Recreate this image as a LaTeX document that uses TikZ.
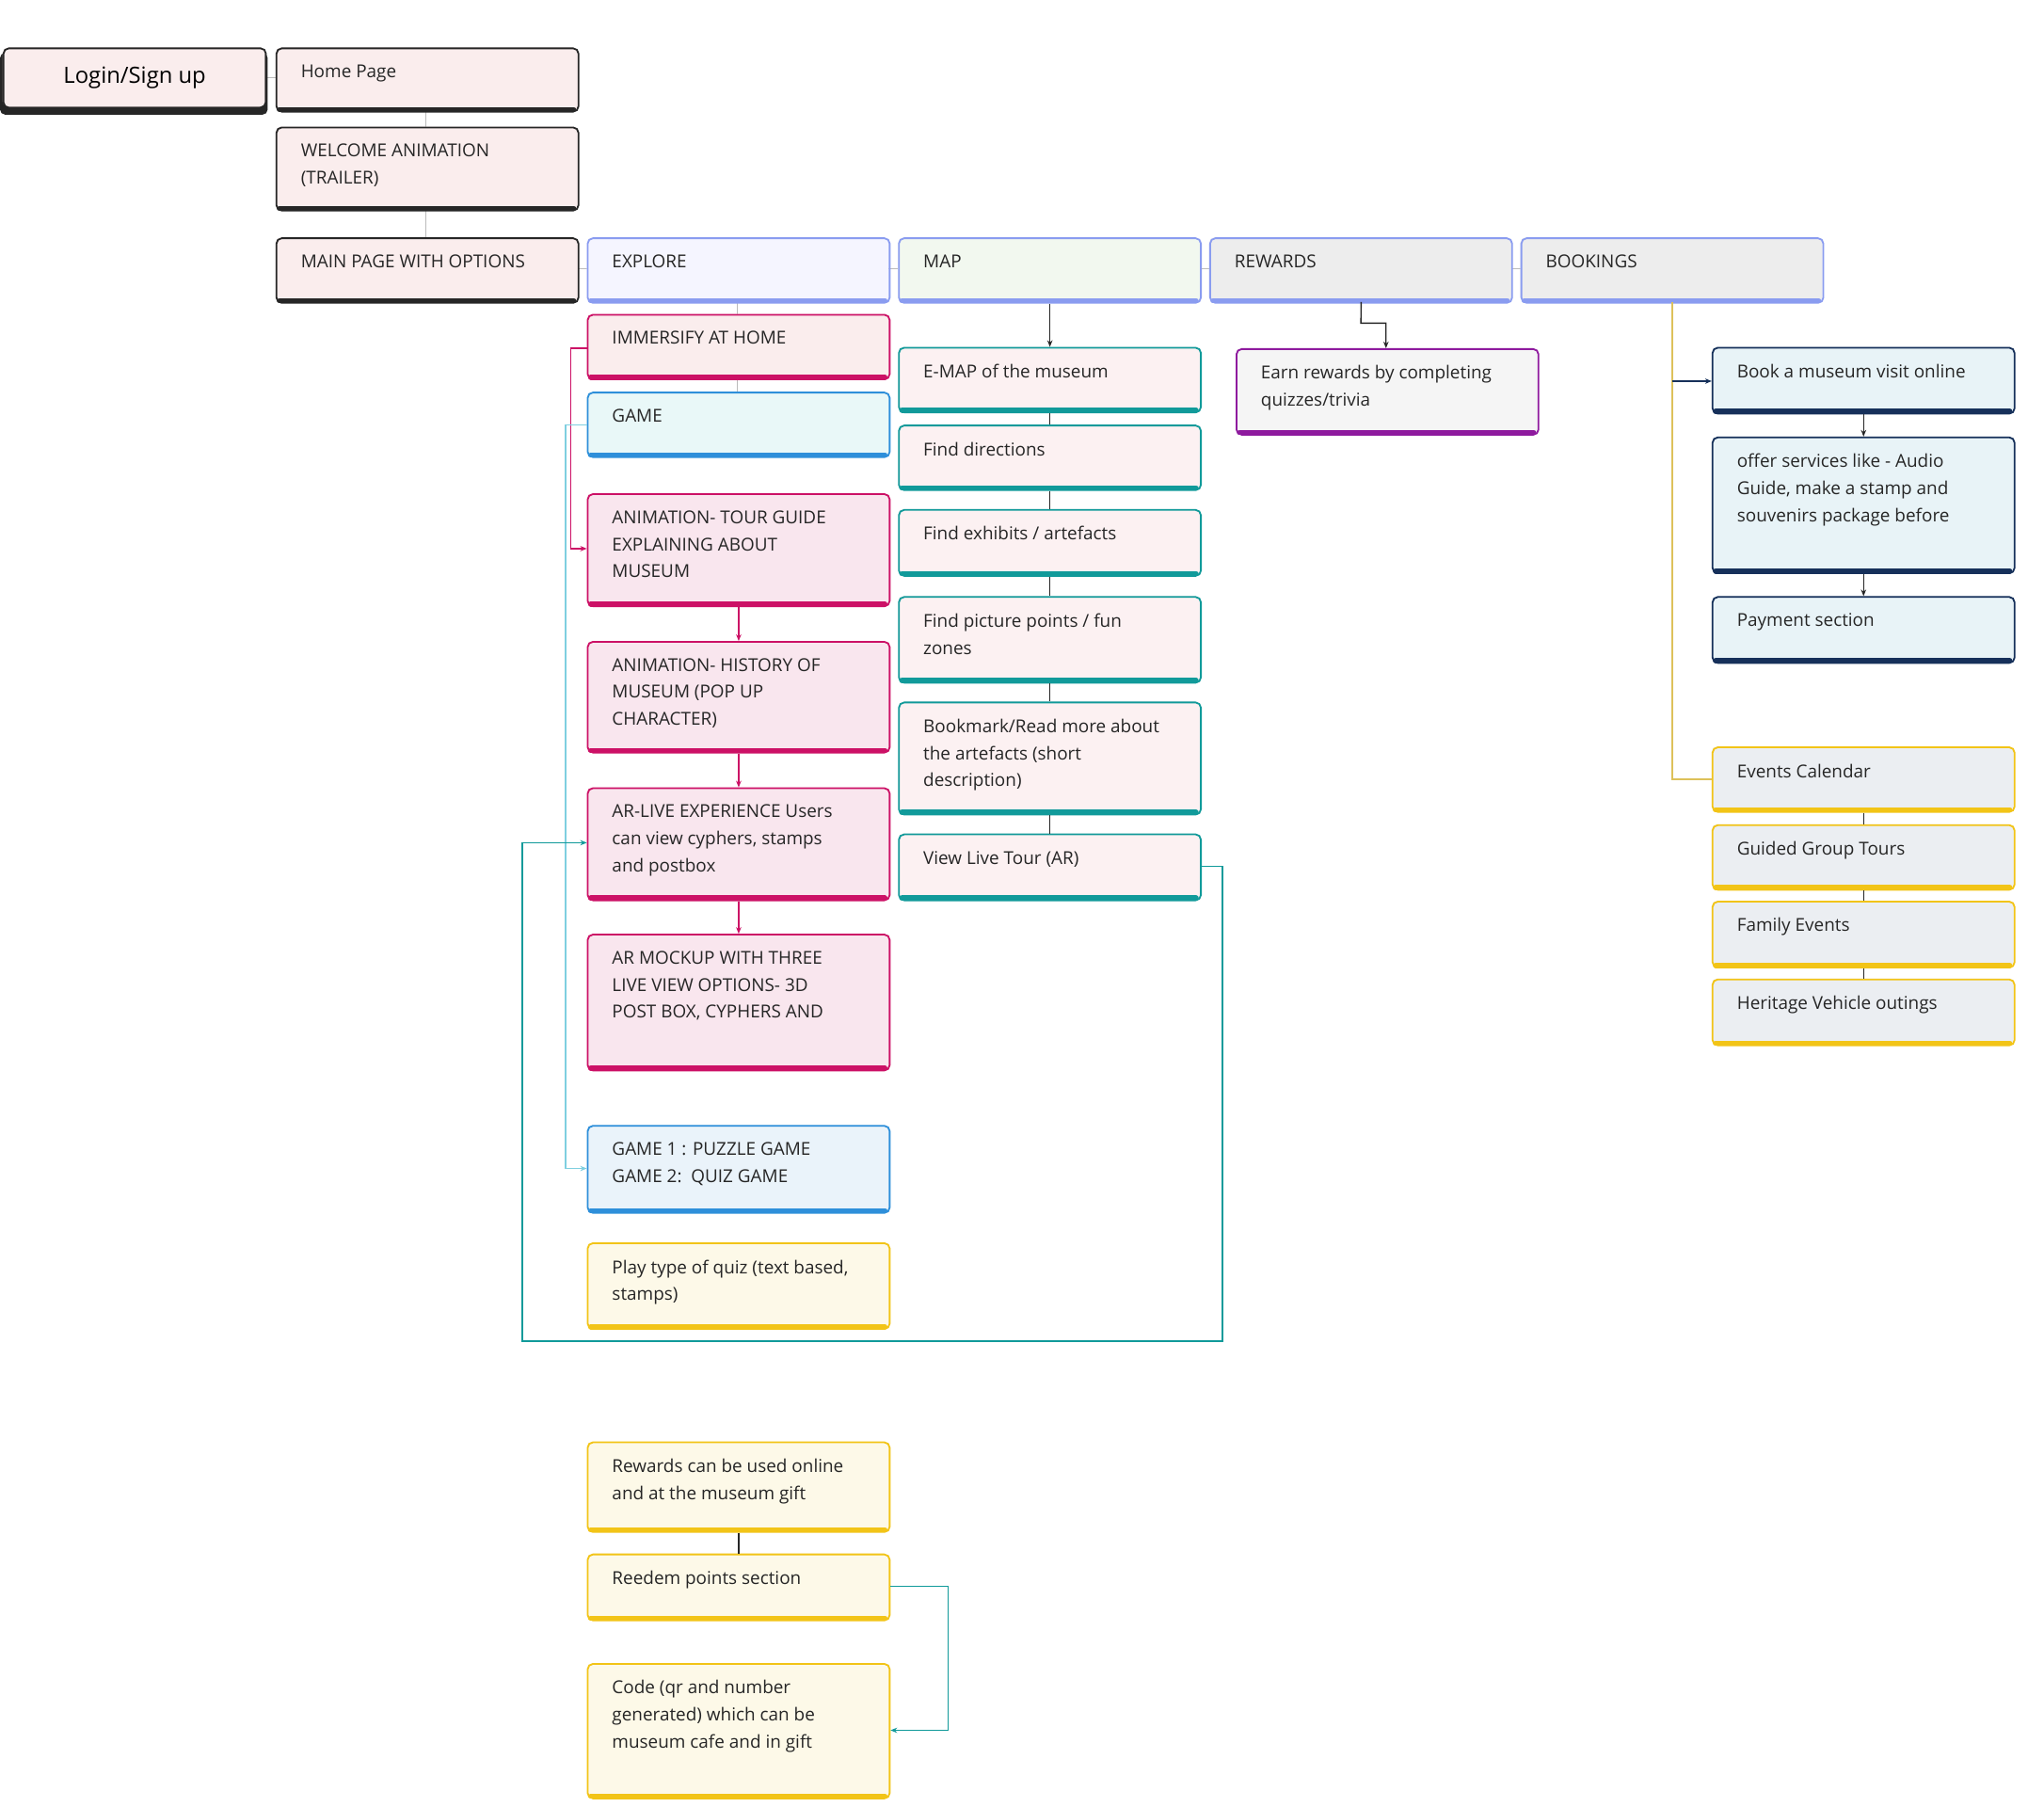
\documentclass[tikz,border=0pt]{standalone}
\usepackage{fontspec}
\setmainfont{Open Sans}
\usetikzlibrary{arrows.meta}
\definecolor{pinkfill}{HTML}{FAEDED}
\definecolor{magfill}{HTML}{F9E6EE}
\definecolor{mag}{HTML}{CC1166}
\definecolor{bluebd}{HTML}{8A9CF0}
\definecolor{gamebd}{HTML}{2E8FDA}
\definecolor{gamefill}{HTML}{E9F8F8}
\definecolor{g1fill}{HTML}{EAF3FA}
\definecolor{yel}{HTML}{F2C417}
\definecolor{yelfill}{HTML}{FDF9E8}
\definecolor{teal}{HTML}{119A9A}
\definecolor{tealfill}{HTML}{FCF1F2}
\definecolor{purp}{HTML}{8E1A9E}
\definecolor{navy}{HTML}{16305A}
\definecolor{navyfill}{HTML}{E8F3F7}
\definecolor{evfill}{HTML}{EBEEF2}
\definecolor{lblue}{HTML}{7FCFE0}
\definecolor{ltgrey}{HTML}{BBBBBB}
\definecolor{mapfill}{HTML}{F2F8EF}
\tikzset{x=1pt,y=-1pt,
  txt/.style={anchor=north west,align=left,inner sep=0pt,font=\fontsize{13.5}{20.5}\selectfont,text=black!85},
  gl/.style={draw=ltgrey,line width=0.8pt},
  arr/.style={-{Stealth[length=5pt,width=4pt]},line width=1pt}}
% \bx{name}{x1}{y1}{x2}{y2}{fill}{border}{text}
\newcommand{\bx}[8]{%
  \fill[#6,rounded corners=4pt] (#2,#3) rectangle (#4,#5);
  \draw[#7,line width=4pt,line cap=round] ({#2+3},{#5-1}) -- ({#4-3},{#5-1});
  \node[draw=#7,line width=1.3pt,rounded corners=4pt,inner sep=0pt,anchor=north west,minimum width={#4-#2},minimum height={#5-#3}] (#1) at (#2,#3) {};
  \node[txt] (#1t) at ({#2+19},{#3+13}) {#8};}
\begin{document}
\begin{tikzpicture}
\useasboundingbox[fill=white] (0,0) rectangle (1550,1370);
% connectors grey
\draw[gl] (202,59) -- (209,59);
\draw[gl] (323,83) -- (323,96);
\draw[gl] (323,158) -- (323,180);
\draw[gl] (438,204) -- (445,204);
\draw[gl] (674,204) -- (681,204);
\draw[gl] (910,204) -- (917,204);
\draw[gl] (1146,204) -- (1153,204);
\draw[gl] (559,228) -- (559,238);
\draw[gl] (559,286) -- (559,297);
% boxes
\fill[black!85,rounded corners=4pt] (0,40) rectangle (203,87);
\fill[pinkfill,rounded corners=4pt] (2,36) rectangle (201,81);
\node[draw=black!85,line width=1.3pt,rounded corners=4pt,inner sep=0pt,anchor=north west,minimum width=199,minimum height=45] (login) at (2,36) {};
\node[font=\fontsize{17}{20}\selectfont] (logint) at (login.center) {Login/Sign up};
\bx{home}{209}{36}{438}{84}{pinkfill}{black!85}{Home Page}
\bx{wel}{209}{96}{438}{159}{pinkfill}{black!85}{WELCOME ANIMATION\\(TRAILER)}
\bx{main}{209}{180}{438}{229}{pinkfill}{black!85}{MAIN PAGE WITH OPTIONS}
\bx{exp}{445}{180}{674}{229}{blue!4}{bluebd}{EXPLORE}
\bx{map}{681}{180}{910}{229}{mapfill}{bluebd}{MAP}
\bx{rew}{917}{180}{1146}{229}{black!7}{bluebd}{REWARDS}
\bx{book}{1153}{180}{1382}{229}{black!7}{bluebd}{BOOKINGS}
\bx{imm}{445}{238}{674}{287}{pinkfill}{mag}{IMMERSIFY AT HOME}
\bx{game}{445}{297}{674}{346}{gamefill}{gamebd}{GAME}
\bx{tour}{445}{374}{674}{459}{magfill}{mag}{ANIMATION- TOUR GUIDE\\EXPLAINING ABOUT\\MUSEUM}
\bx{hist}{445}{486}{674}{570}{magfill}{mag}{ANIMATION- HISTORY OF\\MUSEUM (POP UP\\CHARACTER)}
\bx{arl}{445}{597}{674}{682}{magfill}{mag}{AR-LIVE EXPERIENCE Users\\can view cyphers, stamps\\and postbox}
\bx{arm}{445}{708}{674}{811}{magfill}{mag}{AR MOCKUP WITH THREE\\LIVE VIEW OPTIONS- 3D\\POST BOX, CYPHERS AND}
\bx{g1}{445}{853}{674}{919}{g1fill}{gamebd}{GAME 1 : PUZZLE GAME\\GAME 2:\ \ QUIZ GAME}
\bx{play}{445}{942}{674}{1007}{yelfill}{yel}{Play type of quiz (text based,\\stamps)}
\bx{ruse}{445}{1093}{674}{1161}{yelfill}{yel}{Rewards can be used online\\and at the museum gift}
\bx{reed}{445}{1178}{674}{1228}{yelfill}{yel}{Reedem points section}
\bx{code}{445}{1261}{674}{1363}{yelfill}{yel}{Code (qr and number\\generated) which can be\\museum cafe and in gift}
\bx{emap}{681}{263}{910}{312}{tealfill}{teal}{E-MAP of the museum}
\bx{dir}{681}{322}{910}{371}{tealfill}{teal}{Find directions}
\bx{exh}{681}{386}{910}{436}{tealfill}{teal}{Find exhibits / artefacts}
\bx{pic}{681}{452}{910}{517}{tealfill}{teal}{Find picture points / fun\\zones}
\bx{bm}{681}{532}{910}{617}{tealfill}{teal}{Bookmark/Read more about\\the artefacts (short\\description)}
\bx{live}{681}{632}{910}{682}{tealfill}{teal}{View Live Tour (AR)}
\bx{earn}{937}{264}{1166}{329}{black!4}{purp}{Earn rewards by completing\\quizzes/trivia}
\bx{bv}{1298}{263}{1527}{313}{navyfill}{navy}{Book a museum visit online}
\bx{off}{1298}{331}{1527}{434}{navyfill}{navy}{offer services like - Audio\\Guide, make a stamp and\\souvenirs package before}
\bx{pay}{1298}{452}{1527}{502}{navyfill}{navy}{Payment section}
\bx{ev}{1298}{566}{1527}{615}{evfill}{yel}{Events Calendar}
\bx{gt}{1298}{625}{1527}{674}{evfill}{yel}{Guided Group Tours}
\bx{fe}{1298}{683}{1527}{733}{evfill}{yel}{Family Events}
\bx{hv}{1298}{742}{1527}{792}{evfill}{yel}{Heritage Vehicle outings}
% explore connectors
\draw[mag,arr] (imm.west|-0,264) -- (433,264) -- (433,416) -- (tour.west|-0,416);
\draw[lblue,arr] (game.west|-0,322) -- (429,322) -- (429,886) -- (g1.west|-0,886);
\draw[mag,arr] (tour.south) -- (hist.north);
\draw[mag,arr] (hist.south) -- (arl.north);
\draw[mag,arr] (arl.south) -- (arm.north);
\draw[teal,arr] (live.east|-0,657) -- (927,657) -- (927,1017) -- (396,1017) -- (396,639) -- (arl.west|-0,639);
% map
\draw[black!85,arr] (map.south) -- (emap.north);
\draw[black!85,line width=1pt] (emap.south) -- (dir.north);
\draw[black!85,line width=1pt] (dir.south) -- (exh.north);
\draw[black!85,line width=1pt] (exh.south) -- (pic.north);
\draw[black!85,line width=1pt] (pic.south) -- (bm.north);
\draw[black!85,line width=1pt] (bm.south) -- (live.north);
% rewards
\draw[black!85,arr] (rew.south|-0,229) -- (1032,245) -- (1051,245) -- (1051,264);
% bookings
\draw[yel!85!black!70!white,line width=1pt] (1268,229) -- (1268,591) -- (ev.west|-0,591);
\draw[navy,arr] (1268,289) -- (bv.west|-0,289);
\draw[black!85,arr] (bv.south) -- (off.north);
\draw[black!85,arr] (off.south) -- (pay.north);
\draw[black!85,line width=1pt] (ev.south) -- (gt.north);
\draw[black!85,line width=1pt] (gt.south) -- (fe.north);
\draw[black!85,line width=1pt] (fe.south) -- (hv.north);
% rewards bottom
\draw[black!85,line width=1pt] (ruse.south) -- (reed.north);
\draw[teal,arr] (reed.east|-0,1203) -- (719,1203) -- (719,1312) -- (code.east|-0,1312);
\end{tikzpicture}
\end{document}
